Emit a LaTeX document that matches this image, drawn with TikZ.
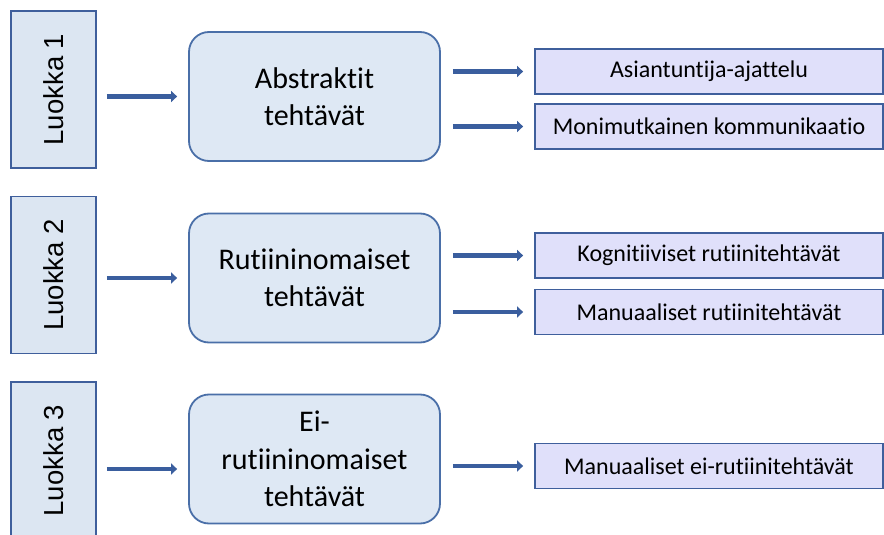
\documentclass[tikz,border=0pt]{standalone}
\usepackage{fontspec}
\setmainfont{Carlito}[Ligatures={NoCommon}, RawFeature={-liga;-clig;-dlig}]
\newfontfamily\arialf{Liberation Sans}
\usetikzlibrary{arrows.meta}
\definecolor{lbfill}{HTML}{DCE6F2}
\definecolor{lbdraw}{HTML}{3F5F9C}
\definecolor{rbfill}{HTML}{DEE8F4}
\definecolor{rbdraw}{HTML}{4A6FA8}
\definecolor{tbfill}{HTML}{E0E0FA}
\definecolor{tbdraw}{HTML}{3F5F9C}
\definecolor{arrc}{HTML}{3A5E9E}
\tikzset{
  classbox/.style={draw=lbdraw, fill=lbfill, line width=1.8pt, minimum width=85pt, minimum height=157pt, inner sep=0pt,
    font=\arialf\fontsize{27.5}{30}\selectfont},
  taskbox/.style={draw=rbdraw, fill=rbfill, line width=1.8pt, rounded corners=20pt, minimum width=251pt, minimum height=129pt,
    inner sep=0pt, align=center, font=\fontsize{30}{37.5}\selectfont},
  leafbox/.style={draw=tbdraw, fill=tbfill, line width=1.8pt, minimum width=348pt, minimum height=45pt, inner sep=0pt,
    font=\fontsize{24}{28}\selectfont},
  conn/.style={draw=arrc, line width=4.5pt, -{Triangle[length=6pt,width=11pt]}}
}
\begin{document}
\begin{tikzpicture}[x=1pt,y=-1pt]
\clip (0,0) rectangle (884,535);
\useasboundingbox (0,0) rectangle (884,535);
\fill[white] (0,0) rectangle (884,535);
% class boxes
\node[classbox] (L1) at (53.5,89.5) {\rotatebox{90}{Luokka 1}};
\node[classbox] (L2) at (53.5,275) {\rotatebox{90}{Luokka 2}};
\node[classbox] (L3) at (53.5,460.5) {\rotatebox{90}{Luokka 3}};
% task boxes
\node[taskbox] (T1) at (314.5,96.5) {Abstraktit\\tehtävät};
\node[taskbox] (T2) at (314.5,278) {Rutiininomaiset\\tehtävät};
\node[taskbox] (T3) at (314.5,459) {Ei-\\rutiininomaiset\\tehtävät};
% leaf boxes
\node[leafbox] (A1) at (709,71.5) {Asiantuntija-ajattelu};
\node[leafbox] (A2) at (709,126.5) {Monimutkainen kommunikaatio};
\node[leafbox] (B1) at (709,255.5) {Kognitiiviset rutiinitehtävät};
\node[leafbox] (B2) at (709,312) {Manuaaliset rutiinitehtävät};
\node[leafbox] (C1) at (709,466) {Manuaaliset ei-rutiinitehtävät};
% connectors
\draw[conn, shorten <=10pt, shorten >=11pt] (L1.east |- T1.west) -- (T1.west);
\draw[conn, shorten <=10pt, shorten >=11pt] (L2.east |- T2.west) -- (T2.west);
\draw[conn, shorten <=10pt, shorten >=11pt] ([yshift=-10pt]L3.east |- T3.west) -- ([yshift=-10pt]T3.west);
\draw[conn, shorten <=12pt, shorten >=11pt] (T1.east |- A1.west) -- (A1.west);
\draw[conn, shorten <=12pt, shorten >=11pt] (T1.east |- A2.west) -- (A2.west);
\draw[conn, shorten <=12pt, shorten >=11pt] (T2.east |- B1.west) -- (B1.west);
\draw[conn, shorten <=12pt, shorten >=11pt] (T2.east |- B2.west) -- (B2.west);
\draw[conn, shorten <=12pt, shorten >=11pt] (T3.east |- C1.west) -- (C1.west);
\end{tikzpicture}
\end{document}
